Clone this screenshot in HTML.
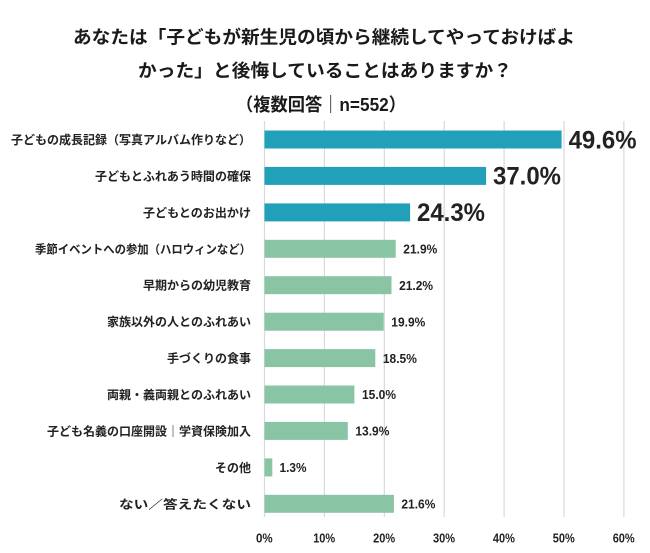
<!DOCTYPE html>
<html>
<head>
<meta charset="utf-8">
<style>
  html,body{margin:0;padding:0;background:#fff;}
  svg{display:block;}
  .t{font-family:"Liberation Sans","Noto Sans CJK JP",sans-serif;font-weight:700;fill:#1a1a1a;}
  .c{font-family:"Noto Sans CJK JP","Liberation Sans",sans-serif;font-weight:700;fill:#222;font-size:12px;}
  .v{font-family:"Liberation Sans","Noto Sans CJK JP",sans-serif;font-weight:700;fill:#222;}
</style>
</head>
<body>
<svg width="650" height="553" viewBox="0 0 650 553" xmlns="http://www.w3.org/2000/svg">
  <rect x="0" y="0" width="650" height="553" fill="#fff"/>
  <!-- Title -->
  <text class="t" x="324" y="43.5" font-size="18" text-anchor="middle" textLength="502" lengthAdjust="spacingAndGlyphs">あなたは「子どもが新生児の頃から継続してやっておけばよ</text>
  <text class="t" x="325" y="77" font-size="18" text-anchor="middle" textLength="374" lengthAdjust="spacingAndGlyphs">かった」と後悔していることはありますか？</text>
  <text class="t" x="321" y="111" font-size="18" text-anchor="middle" textLength="170" lengthAdjust="spacingAndGlyphs">（複数回答｜n=552）</text>

  <!-- Gridlines -->
  <g stroke="#d9d9d9" stroke-width="1.2">
    <line x1="264.5" y1="121" x2="264.5" y2="517"/>
    <line x1="324.4" y1="121" x2="324.4" y2="517"/>
    <line x1="384.3" y1="121" x2="384.3" y2="517"/>
    <line x1="444.2" y1="121" x2="444.2" y2="517"/>
    <line x1="504.1" y1="121" x2="504.1" y2="517"/>
    <line x1="564" y1="121" x2="564" y2="517"/>
    <line x1="623.9" y1="121" x2="623.9" y2="517"/>
  </g>

  <!-- Bars -->
  <g>
    <rect x="264.5" y="130.5" width="297.1" height="18" fill="#22a0ba"/>
    <rect x="264.5" y="166.9" width="221.6" height="18" fill="#22a0ba"/>
    <rect x="264.5" y="203.4" width="145.6" height="18" fill="#22a0ba"/>
    <rect x="264.5" y="239.8" width="131.2" height="18" fill="#89c5a5"/>
    <rect x="264.5" y="276.2" width="127.0" height="18" fill="#89c5a5"/>
    <rect x="264.5" y="312.7" width="119.2" height="18" fill="#89c5a5"/>
    <rect x="264.5" y="349.1" width="110.8" height="18" fill="#89c5a5"/>
    <rect x="264.5" y="385.5" width="89.9" height="18" fill="#89c5a5"/>
    <rect x="264.5" y="421.9" width="83.3" height="18" fill="#89c5a5"/>
    <rect x="264.5" y="458.4" width="7.8" height="18" fill="#89c5a5"/>
    <rect x="264.5" y="494.8" width="129.4" height="18" fill="#89c5a5"/>
  </g>

  <!-- Category labels -->
  <g text-anchor="end">
    <text class="c" x="251" y="144" textLength="240" lengthAdjust="spacingAndGlyphs">子どもの成長記録（写真アルバム作りなど）</text>
    <text class="c" x="251" y="180.4" textLength="156" lengthAdjust="spacingAndGlyphs">子どもとふれあう時間の確保</text>
    <text class="c" x="251" y="216.9" textLength="108" lengthAdjust="spacingAndGlyphs">子どもとのお出かけ</text>
    <text class="c" x="251" y="253.3" textLength="216" lengthAdjust="spacingAndGlyphs">季節イベントへの参加（ハロウィンなど）</text>
    <text class="c" x="251" y="289.7" textLength="108" lengthAdjust="spacingAndGlyphs">早期からの幼児教育</text>
    <text class="c" x="251" y="326.2" textLength="144" lengthAdjust="spacingAndGlyphs">家族以外の人とのふれあい</text>
    <text class="c" x="251" y="362.6" textLength="84" lengthAdjust="spacingAndGlyphs">手づくりの食事</text>
    <text class="c" x="251" y="399" textLength="144" lengthAdjust="spacingAndGlyphs">両親・義両親とのふれあい</text>
    <text class="c" x="251" y="435.4" textLength="204" lengthAdjust="spacingAndGlyphs">子ども名義の口座開設｜学資保険加入</text>
    <text class="c" x="251" y="471.9" textLength="36" lengthAdjust="spacingAndGlyphs">その他</text>
    <text class="c" x="251" y="508.3" textLength="132" lengthAdjust="spacingAndGlyphs">ない／答えたくない</text>
  </g>

  <!-- Value labels -->
  <g>
    <text class="v" x="568.6" y="148.3" font-size="25" textLength="68" lengthAdjust="spacingAndGlyphs">49.6%</text>
    <text class="v" x="493" y="184.7" font-size="25" textLength="68" lengthAdjust="spacingAndGlyphs">37.0%</text>
    <text class="v" x="417" y="221.2" font-size="25" textLength="68" lengthAdjust="spacingAndGlyphs">24.3%</text>
    <text class="v" x="403.3" y="253.5" font-size="13" textLength="34" lengthAdjust="spacingAndGlyphs">21.9%</text>
    <text class="v" x="399.1" y="289.9" font-size="13" textLength="34" lengthAdjust="spacingAndGlyphs">21.2%</text>
    <text class="v" x="391.3" y="326.4" font-size="13" textLength="34" lengthAdjust="spacingAndGlyphs">19.9%</text>
    <text class="v" x="382.9" y="362.8" font-size="13" textLength="34" lengthAdjust="spacingAndGlyphs">18.5%</text>
    <text class="v" x="362" y="399.2" font-size="13" textLength="34" lengthAdjust="spacingAndGlyphs">15.0%</text>
    <text class="v" x="355.4" y="435.6" font-size="13" textLength="34" lengthAdjust="spacingAndGlyphs">13.9%</text>
    <text class="v" x="279.5" y="472.1" font-size="13" textLength="27" lengthAdjust="spacingAndGlyphs">1.3%</text>
    <text class="v" x="401.4" y="508.5" font-size="13" textLength="34" lengthAdjust="spacingAndGlyphs">21.6%</text>
  </g>

  <!-- Axis tick labels -->
  <g text-anchor="middle">
    <text class="v" x="264.3" y="542.7" font-size="13" textLength="16.7" lengthAdjust="spacingAndGlyphs">0%</text>
    <text class="v" x="324.2" y="542.7" font-size="13" textLength="22" lengthAdjust="spacingAndGlyphs">10%</text>
    <text class="v" x="384.1" y="542.7" font-size="13" textLength="22" lengthAdjust="spacingAndGlyphs">20%</text>
    <text class="v" x="444" y="542.7" font-size="13" textLength="22" lengthAdjust="spacingAndGlyphs">30%</text>
    <text class="v" x="503.9" y="542.7" font-size="13" textLength="22" lengthAdjust="spacingAndGlyphs">40%</text>
    <text class="v" x="563.8" y="542.7" font-size="13" textLength="22" lengthAdjust="spacingAndGlyphs">50%</text>
    <text class="v" x="623.7" y="542.7" font-size="13" textLength="22" lengthAdjust="spacingAndGlyphs">60%</text>
  </g>
</svg>
</body>
</html>
